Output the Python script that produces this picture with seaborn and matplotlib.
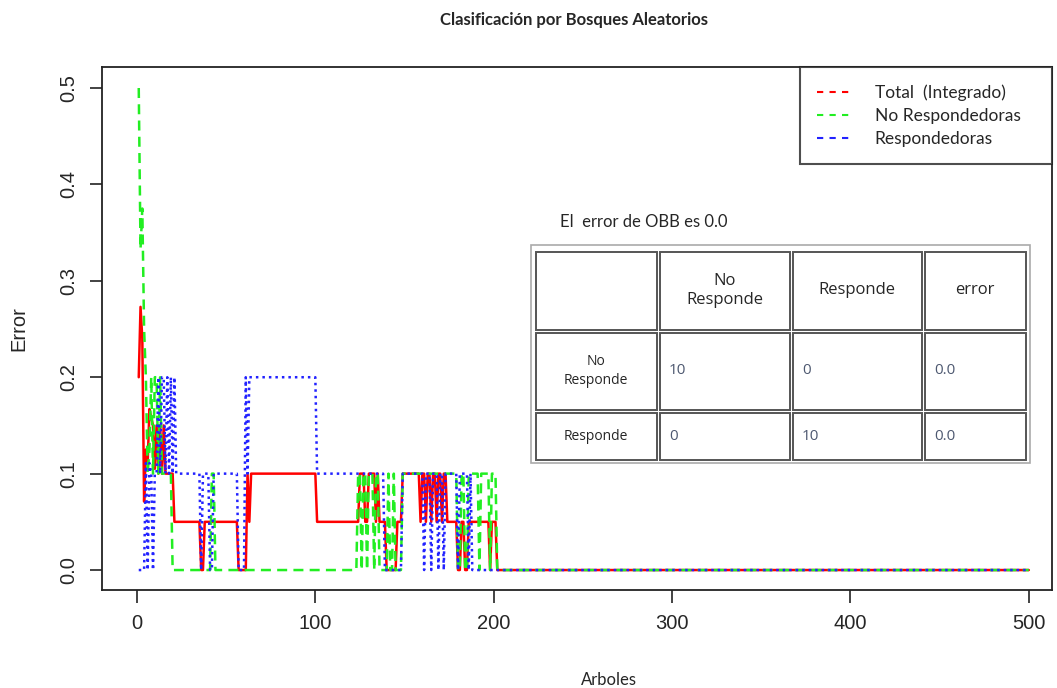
import numpy as np
import pandas as pd
import matplotlib
matplotlib.use("Agg")
import matplotlib.pyplot as plt
from matplotlib.lines import Line2D
from matplotlib.patches import Rectangle
import seaborn as sns

# Estilo parecido al plot de R
sns.set_style("white")
plt.rcParams['font.family'] = ['Liberation Sans', 'DejaVu Sans']

N_TREES = 500

# Error OOB por numero de arboles, como (arbol donde cambia, valor);
# el valor se mantiene hasta el siguiente cambio
total_changes = [
    (1, 0.2), (2, 0.273), (3, 0.24), (4, 0.071), (5, 0.125), (6, 0.111),
    (7, 0.167), (8, 0.158), (9, 0.15), (10, 0.105), (11, 0.15), (12, 0.1),
    (13, 0.15), (14, 0.1), (15, 0.15), (16, 0.1), (21, 0.05), (36, 0.0),
    (38, 0.05), (57, 0.0), (62, 0.1), (63, 0.05), (64, 0.1), (101, 0.05),
    (125, 0.1), (128, 0.05), (130, 0.1), (134, 0.05), (135, 0.1), (136, 0.05),
    (140, 0.0), (146, 0.05), (149, 0.1), (159, 0.05), (160, 0.1), (162, 0.05),
    (163, 0.1), (165, 0.05), (166, 0.1), (168, 0.05), (169, 0.1), (171, 0.05),
    (172, 0.1), (174, 0.05), (180, 0.0), (182, 0.05), (184, 0.0), (186, 0.05),
    (198, 0.0), (199, 0.05), (202, 0.0),
]
no_resp_changes = [
    (1, 0.5), (2, 0.333), (3, 0.375), (4, 0.25), (5, 0.2), (6, 0.1),
    (7, 0.125), (8, 0.2), (9, 0.1), (10, 0.2), (12, 0.1), (13, 0.2),
    (14, 0.1), (20, 0.0), (42, 0.1), (44, 0.0), (124, 0.1), (126, 0.0),
    (127, 0.1), (129, 0.0), (130, 0.1), (133, 0.0), (134, 0.1), (136, 0.0),
    (141, 0.1), (142, 0.0), (144, 0.1), (145, 0.0), (149, 0.1), (180, 0.0),
    (182, 0.1), (184, 0.0), (186, 0.1), (192, 0.0), (193, 0.1), (198, 0.0),
    (199, 0.1), (202, 0.0),
]
resp_changes = [
    (1, 0.0), (5, 0.111), (6, 0.0), (7, 0.111), (8, 0.1), (9, 0.0),
    (10, 0.1), (12, 0.2), (13, 0.1), (14, 0.2), (16, 0.1), (17, 0.2),
    (18, 0.1), (19, 0.2), (20, 0.1), (21, 0.2), (22, 0.1), (36, 0.0),
    (37, 0.1), (41, 0.0), (43, 0.1), (57, 0.0), (61, 0.2), (62, 0.1),
    (63, 0.2), (101, 0.1), (139, 0.0), (149, 0.1), (161, 0.0), (162, 0.1),
    (165, 0.0), (166, 0.1), (169, 0.0), (170, 0.1), (172, 0.0), (173, 0.1),
    (180, 0.0), (181, 0.1), (186, 0.0), (187, 0.1), (188, 0.0),
]

series_names = ["Total  (Integrado)", "No Respondedoras", "Respondedoras"]
series_colors = ["#FF0000", "#22EE22", "#2222FF"]

# Matriz de confusion del recuadro
obb_text = "El  error de OBB es 0.0"
conf_cols = ["No\nResponde", "Responde", "error"]
conf_rows = ["No\nResponde", "Responde"]
conf_vals = [["10", "0", "0.0"], ["0", "10", "0.0"]]

x_ticks = [0, 100, 200, 300, 400, 500]
y_ticks = [0.0, 0.1, 0.2, 0.3, 0.4, 0.5]


def expand(changes, n=N_TREES):
    vals = np.empty(n)
    for i, (start, v) in enumerate(changes):
        end = changes[i + 1][0] if i + 1 < len(changes) else n + 1
        vals[start - 1:end - 1] = v
    return vals


trees = np.arange(1, N_TREES + 1)
frames = []
for name, ch in zip(series_names, [total_changes, no_resp_changes, resp_changes]):
    frames.append(pd.DataFrame({'Arboles': trees, 'Error': expand(ch), 'Serie': name}))
df = pd.concat(frames, ignore_index=True)

W, H = 1057, 688
fig = plt.figure(figsize=(W / 100, H / 100), dpi=100)
ax = fig.add_axes([102 / W, 1 - 590 / H, 950 / W, 523 / H])

line_styles = ['-', (0, (4, 2.5)), (0, (1, 1.6))]
for name, color, ls in zip(series_names, series_colors, line_styles):
    sub = df[df['Serie'] == name]
    sns.lineplot(data=sub, x='Arboles', y='Error', color=color, linestyle=ls,
                 linewidth=1.8, estimator=None, errorbar=None, sort=False,
                 legend=False, ax=ax)

ax.set_xlim(-19.6, 513)
ax.set_ylim(-0.0207, 0.5218)
ax.set_xticks(x_ticks)
ax.set_xticklabels([str(t) for t in x_ticks])
ax.set_yticks(y_ticks)
ax.set_yticklabels([f"{t:.1f}" for t in y_ticks], rotation=90, va='center')
ax.tick_params(axis='both', direction='out', length=9, width=1.2, color='#222',
               labelsize=14.5, pad=8, left=True, bottom=True)
for s in ax.spines.values():
    s.set_color('#222')
    s.set_linewidth(1.3)

ax.set_ylabel("Error", fontsize=14.5, labelpad=22)
ax.set_xlabel("Arboles", family='Lato', fontsize=12)
ax.xaxis.set_label_coords((609 - 102) / 950, -(680 - 590) / 523)
ax.xaxis.label.set_va('center')

# Leyenda
handles = [Line2D([], [], color=c, linestyle=(0, (3, 3)), linewidth=1.5) for c in series_colors]
leg = ax.legend(handles, series_names, loc='upper left',
                bbox_to_anchor=((800 - 102) / 950, 0, (1052 - 800) / 950, 1),
                mode='expand', borderaxespad=0, frameon=True, fancybox=False,
                edgecolor='#222', prop=dict(family='Lato', size=12.5),
                handlelength=2.0, handletextpad=1.3, borderpad=1.0, labelspacing=0.4)
leg.get_frame().set_linewidth(1.5)

fig.text(574 / W, 1 - 20 / H, "Clasificación por Bosques Aleatorios",
         family='Lato', fontweight='bold', fontsize=12, ha='center', va='center')

# Recuadro con la tabla (coordenadas en pixeles)
ov = fig.add_axes([0, 0, 1, 1], zorder=5)
ov.set_xlim(0, W)
ov.set_ylim(H, 0)
ov.axis('off')

ov.text(560, 222, obb_text, family='Lato', fontsize=12, ha='left', va='center')

col_edges = [534, 658, 791, 923, 1027]
row_edges = [250, 331, 411, 461]
ov.add_patch(Rectangle((531, 245), 499, 218, facecolor='white', edgecolor='#aaa', lw=1.2))
for r in range(3):
    for c in range(4):
        x0, x1 = col_edges[c], col_edges[c + 1]
        y0, y1 = row_edges[r], row_edges[r + 1]
        ov.add_patch(Rectangle((x0 + 1.5, y0 + 1.5), x1 - x0 - 3, y1 - y0 - 3,
                               facecolor='white', edgecolor='#555', lw=1.4))
for c, lab in enumerate(conf_cols):
    cx = (col_edges[c + 1] + col_edges[c + 2]) / 2
    ov.text(cx, (row_edges[0] + row_edges[1]) / 2, lab, family='Open Sans',
            fontsize=12, ha='center', va='center', linespacing=1.3)
for r, lab in enumerate(conf_rows):
    cy = (row_edges[r + 1] + row_edges[r + 2]) / 2
    ov.text((col_edges[0] + col_edges[1]) / 2, cy, lab, family='Open Sans',
            fontsize=10, ha='center', va='center', linespacing=1.3)
    for c, v in enumerate(conf_vals[r]):
        ov.text(col_edges[c + 1] + 11, cy, v, family='Open Sans', fontsize=11,
                color='#4d5870', ha='left', va='center')

fig.savefig("out.png", dpi=100)
